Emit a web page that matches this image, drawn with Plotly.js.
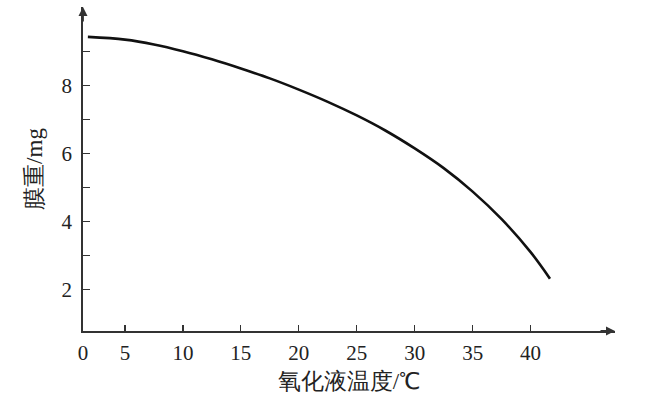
<!DOCTYPE html>
<html>
<head>
<meta charset="utf-8">
<script src="https://cdn.plot.ly/plotly-3.0.1.min.js"></script>
<style>html,body{margin:0;padding:0;background:#fff;}#chart{width:668px;height:401px;}</style>
</head>
<body>
<div id="chart"></div>
<script>
// Data
const temperature = [1.8, 5, 7.5, 10, 12.5, 15, 17.5, 20, 22.5, 25, 27.5, 30, 32.5, 35, 37.5, 40, 41.67];
const filmWeight  = [9.44, 9.36, 9.22, 9.02, 8.78, 8.51, 8.22, 7.89, 7.53, 7.13, 6.68, 6.16, 5.58, 4.89, 4.08, 3.11, 2.33];

const xStart = 1.38, xEnd = 47.28;
const yStart = 0.79, yEnd = 10.32;
const xTickVals = [xStart, 5, 10, 15, 20, 25, 30, 35, 40];
const xTickText = ['0', '5', '10', '15', '20', '25', '30', '35', '40'];
const yTickVals = [2, 3, 4, 5, 6, 7, 8, 9];
const yTickText = ['2', '', '4', '', '6', '', '8', ''];

const serif = 'Liberation Serif';
const axisColor = '#333';

const trace = {
  x: temperature, y: filmWeight, type: 'scatter', mode: 'lines',
  line: {color: '#111', width: 2.6, shape: 'spline', smoothing: 1},
  hoverinfo: 'skip'
};

const layout = {
  width: 668, height: 401,
  margin: {l: 83, r: 53, t: 7, b: 70, pad: 0},
  paper_bgcolor: '#fff', plot_bgcolor: '#fff',
  showlegend: false,
  xaxis: {
    range: [xStart, xEnd], showgrid: false, zeroline: false,
    showline: true, linecolor: axisColor, linewidth: 1.8,
    tickmode: 'array', tickvals: xTickVals, ticktext: xTickText,
    ticks: 'inside', ticklen: 6, tickwidth: 1.2, tickcolor: axisColor,
    ticklabelstandoff: 2,
    tickfont: {family: serif, size: 21, color: '#222'},
    title: {text: '氧化液温度/℃', font: {family: serif, size: 23, color: '#222'}, standoff: 9},
    fixedrange: true
  },
  yaxis: {
    range: [yStart, yEnd], showgrid: false, zeroline: false,
    showline: true, linecolor: axisColor, linewidth: 1.8,
    tickmode: 'array', tickvals: yTickVals, ticktext: yTickText,
    ticks: 'inside', ticklen: 7, tickwidth: 1.2, tickcolor: axisColor,
    ticklabelstandoff: 5,
    tickfont: {family: serif, size: 21, color: '#222'},
    title: {text: '膜重/mg', font: {family: serif, size: 23, color: '#222'}, standoff: 12},
    fixedrange: true
  },
  annotations: [
    {x: xEnd, y: yStart, xref: 'x', yref: 'y', text: '', showarrow: true,
     ax: -16, ay: 0, arrowhead: 2, arrowsize: 1, arrowwidth: 1.8, arrowcolor: axisColor, standoff: 0},
    {x: xStart, y: yEnd, xref: 'x', yref: 'y', text: '', showarrow: true,
     ax: 0, ay: 16, arrowhead: 2, arrowsize: 1, arrowwidth: 1.8, arrowcolor: axisColor, standoff: 0}
  ]
};

Plotly.newPlot('chart', [trace], layout, {staticPlot: true, displayModeBar: false});
</script>
</body>
</html>
